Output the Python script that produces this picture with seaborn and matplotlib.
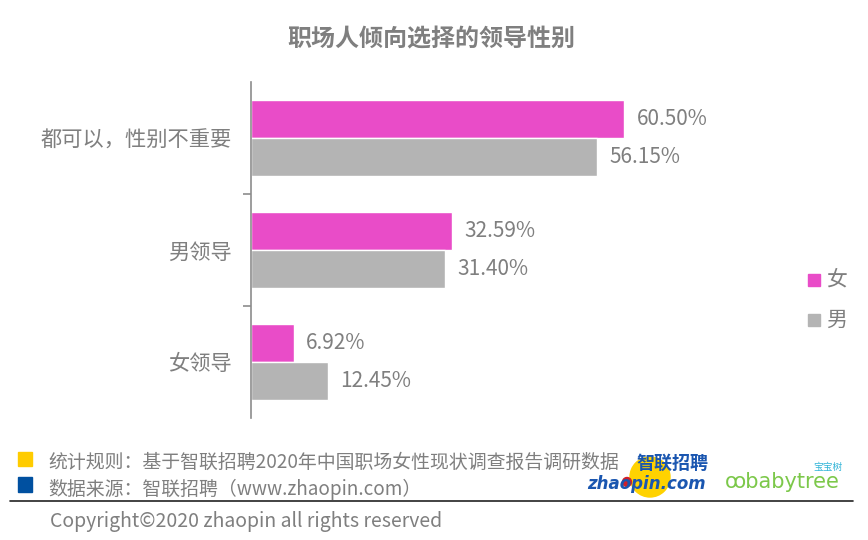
import matplotlib
matplotlib.use("Agg")
import matplotlib.pyplot as plt
import matplotlib.patches as mpatches
import seaborn as sns
import pandas as pd

categories = ["都可以，性别不重要", "男领导", "女领导"]
female = [60.50, 32.59, 6.92]
male = [56.15, 31.40, 12.45]
series_names = ["女", "男"]
colors = ["#E94CC8", "#B4B4B4"]

title = "职场人倾向选择的领导性别"
note1 = "统计规则：基于智联招聘2020年中国职场女性现状调查报告调研数据"
note2 = "数据来源：智联招聘（www.zhaopin.com）"
copyright_text = "Copyright©2020 zhaopin all rights reserved"

sns.set_theme(style="white")
plt.rcParams['font.family'] = ['Noto Sans CJK SC', 'DejaVu Sans']

df = pd.DataFrame({
    "category": categories * 2,
    "gender": [series_names[0]] * 3 + [series_names[1]] * 3,
    "value": female + male,
})

TXT = "#7f7f7f"
W, H = 868, 540
fig = plt.figure(figsize=(W / 100, H / 100), dpi=100)
ax_l, ax_r, ax_t, ax_b = 251, 790, 82, 418
ax = fig.add_axes([ax_l / W, 1 - ax_b / H, (ax_r - ax_l) / W, (ax_b - ax_t) / H])

sns.barplot(data=df, y="category", x="value", hue="gender", order=categories,
            hue_order=series_names, palette=colors, orient="h", width=0.67,
            saturation=1, ax=ax, legend=False)

ax.set_xlim(0, (ax_r - ax_l) / 6.165)
ax.set_ylim(2.5, -0.5)
ax.set_xlabel("")
ax.set_ylabel("")
ax.set_xticks([])
for s in ["top", "right", "bottom"]:
    ax.spines[s].set_visible(False)
ax.spines["left"].set_color("#8c8c8c")
ax.spines["left"].set_linewidth(1.2)
ax.tick_params(axis="y", which="major", length=0, pad=14, labelsize=15.3, labelcolor=TXT)
ax.set_yticks([0.5, 1.5], minor=True)
ax.tick_params(axis="y", which="minor", length=6, width=1.2, color="#8c8c8c", left=True)

for container in ax.containers:
    ax.bar_label(container, labels=[f"{v:.2f}%" for v in container.datavalues],
                 padding=9, fontsize=15, color=TXT)

# legend
for i, (name, c) in enumerate(zip(series_names, colors)):
    y = 280 + i * 40
    fig.patches.append(mpatches.Rectangle((808 / W, 1 - (y + 6) / H), 12 / W, 12 / H,
                                          color=c, transform=fig.transFigure, figure=fig))
    fig.text(826 / W, 1 - y / H, name, fontsize=15, color=TXT, va="center", ha="left")

fig.text(431 / W, 1 - 39 / H, title, fontsize=17.3, fontweight="bold", color=TXT,
         ha="center", va="center")

# footer
fig.patches.append(mpatches.Rectangle((18 / W, 1 - 466 / H), 14 / W, 14 / H,
                                      color="#FFCC00", transform=fig.transFigure, figure=fig))
fig.patches.append(mpatches.Rectangle((18 / W, 1 - 492 / H), 14 / W, 15 / H,
                                      color="#0050A0", transform=fig.transFigure, figure=fig))
fig.text(48 / W, 1 - 462 / H, note1, fontsize=13.6, color=TXT, va="center", ha="left")
fig.text(48 / W, 1 - 489 / H, note2, fontsize=13.6, color=TXT, va="center", ha="left")
fig.add_artist(plt.Line2D([10 / W, 853 / W], [1 - 501 / H, 1 - 501 / H], color="#222222",
                          lw=1.2, transform=fig.transFigure))
fig.text(50 / W, 1 - 521 / H, copyright_text, fontsize=14, color=TXT, va="center", ha="left")

# logos (approximated)
fig.patches.append(mpatches.Ellipse((650 / W, 1 - 477 / H), 40 / W, 40 / H, color="#FFD200",
                                    transform=fig.transFigure, figure=fig))
fig.patches.append(mpatches.Ellipse((627 / W, 1 - 482 / H), 9 / W, 9 / H, color="#D0202A",
                                    transform=fig.transFigure, figure=fig))
fig.text(672 / W, 1 - 463 / H, "智联招聘", fontsize=13, fontweight="bold", color="#1a56b0",
         va="center", ha="center", style="italic")
fig.text(646 / W, 1 - 484 / H, "zhaopin.com", fontsize=12, fontweight="bold", color="#1a56b0",
         va="center", ha="center", style="italic", family="DejaVu Sans")
fig.text(782 / W, 1 - 482 / H, "ꝏbabytree", fontsize=15, color="#7cc84a",
         va="center", ha="center", family="DejaVu Sans")
fig.text(828 / W, 1 - 467 / H, "宝宝树", fontsize=7, color="#33b5d8", va="center", ha="center")

fig.savefig("out.png", dpi=100)
